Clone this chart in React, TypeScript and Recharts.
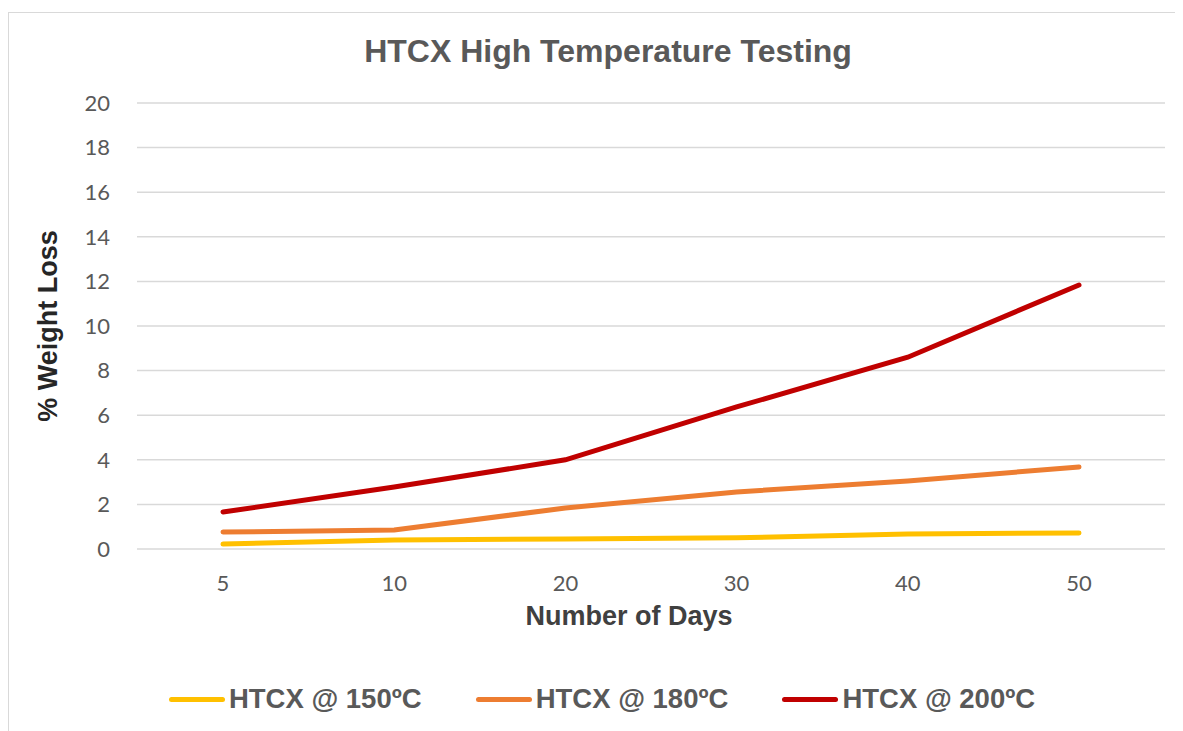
import { LineChart, Line, XAxis, YAxis, CartesianGrid, Legend, Label } from 'recharts';

// dias de teste
const days = ['5', '10', '20', '30', '40', '50'];

// % de perda de peso por temperatura
const loss150 = [0.22, 0.4, 0.45, 0.5, 0.67, 0.72];
const loss180 = [0.76, 0.85, 1.84, 2.56, 3.05, 3.68];
const loss200 = [1.66, 2.78, 4.0, 6.37, 8.6, 11.84];

const yTicks = [0, 2, 4, 6, 8, 10, 12, 14, 16, 18, 20];

const series = [
  { key: 'c150', name: 'HTCX @ 150ºC', color: '#FFC000' },
  { key: 'c180', name: 'HTCX @ 180ºC', color: '#ED7D31' },
  { key: 'c200', name: 'HTCX @ 200ºC', color: '#C00000' },
];

const data = days.map((d, i) => ({
  day: d,
  c150: loss150[i],
  c180: loss180[i],
  c200: loss200[i],
}));

const boldFont = '"Liberation Sans", Arial, sans-serif';
const tickFont = 'Lato, "Open Sans", sans-serif';

const LegendContent = () => (
  <div style={{ display: 'flex', justifyContent: 'center', gap: 54, paddingLeft: 30 }}>
    {series.map((s) => (
      <div key={s.key} style={{ display: 'flex', alignItems: 'center' }}>
        <div style={{ width: 56, height: 5, borderRadius: 3, background: s.color }} />
        <span style={{ fontFamily: boldFont, fontWeight: 'bold', fontSize: 27.5, color: '#595959', marginLeft: 4 }}>
          {s.name}
        </span>
      </div>
    ))}
  </div>
);

const App = () => {
  return (
    <div style={{ paddingTop: 4 }}>
      <div
        style={{
          position: 'relative',
          width: 1200,
          height: 740,
          borderLeft: '1px solid #d9d9d9',
          borderTop: '1px solid #d9d9d9',
          background: '#fff',
        }}
      >
        <div
          style={{
            position: 'absolute',
            top: 20,
            left: 0,
            width: 1198,
            textAlign: 'center',
            fontFamily: boldFont,
            fontWeight: 'bold',
            fontSize: 32,
            color: '#595959',
          }}
        >
          HTCX High Temperature Testing
        </div>
        <LineChart width={1172} height={730} data={data} margin={{ top: 90, right: 16, left: 0, bottom: 28 }}>
          <CartesianGrid vertical={false} stroke="#d9d9d9" strokeWidth={1.5} />
          <XAxis
            dataKey="day"
            axisLine={false}
            tickLine={false}
            tickSize={0}
            tickMargin={26}
            height={134}
            padding={{ left: 86, right: 86 }}
            tick={{ fill: '#595959', fontSize: 22, fontFamily: tickFont }}
          >
            <Label
              value="Number of Days"
              position="insideTop"
              offset={57}
              dx={-22}
              style={{ fontFamily: boldFont, fontWeight: 'bold', fontSize: 27, fill: '#404040' }}
            />
          </XAxis>
          <YAxis
            domain={[0, 20]}
            ticks={yTicks}
            width={128}
            axisLine={false}
            tickLine={false}
            tickSize={0}
            tickMargin={27}
            tick={{ fill: '#595959', fontSize: 22, fontFamily: tickFont }}
          >
            <Label
              value="% Weight Loss"
              angle={-90}
              position="center"
              dx={-26}
              style={{ fontFamily: boldFont, fontWeight: 'bold', fontSize: 27, fill: '#262626', textAnchor: 'middle' }}
            />
          </YAxis>
          <Legend verticalAlign="bottom" content={<LegendContent />} />
          {series.map((s) => (
            <Line
              key={s.key}
              type="linear"
              dataKey={s.key}
              name={s.name}
              stroke={s.color}
              strokeWidth={5}
              strokeLinecap="round"
              dot={false}
              activeDot={false}
              isAnimationActive={false}
            />
          ))}
        </LineChart>
      </div>
    </div>
  );
};

export default App;
